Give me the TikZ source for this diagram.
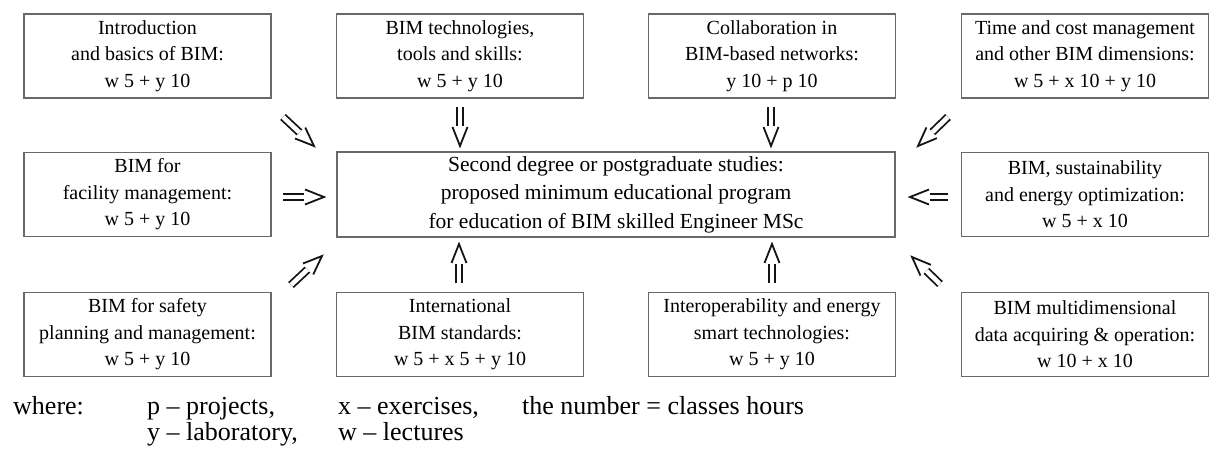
\documentclass[tikz,border=0pt]{standalone}
\usepackage{fontspec}
\setmainfont{Liberation Serif}
\usetikzlibrary{decorations.markings}
\definecolor{boxline}{RGB}{105,105,105}
\definecolor{ink}{RGB}{20,20,20}
\tikzset{
  module/.style={draw=boxline, line width=1.3, minimum width=247, minimum height=84,
    inner sep=0, align=center, text=black, font=\fontsize{20}{26.5}\selectfont},
  centrebox/.style={module, minimum width=558, minimum height=85,
    font=\fontsize{21.5}{28.5}\selectfont},
  legend/.style={anchor=base west, inner sep=0, text=black, font=\fontsize{26}{30}\selectfont},
  dblarrow/.style={
    preaction={draw=ink, line width=1.8, double distance=4.6, shorten >=20},
    postaction={decorate, decoration={markings, mark=at position 1 with {
      \draw[ink, line width=1.8, line join=miter] (-19,-7.5) -- (0,0) -- (-19,7.5);}}}}
}
\begin{document}
\begin{tikzpicture}[x=1pt, y=-1pt]
\useasboundingbox (0,0) rectangle (1211,452);
% top row
\node[module] (intro) at (147.5,56) {Introduction\\and basics of BIM:\\w 5 + y 10};
\node[module] (tech)  at (460,56) {BIM technologies,\\tools and skills:\\w 5 + y 10};
\node[module] (collab) at (772,56) {Collaboration in\\BIM-based networks:\\y 10 + p 10};
\node[module] (time)  at (1085,56) {Time and cost management\\and other BIM dimensions:\\w 5 + x 10 + y 10};
% middle row
\node[module] (facility) at (147.5,194.5) {BIM for\\facility management:\\w 5 + y 10};
\node[centrebox] (centre) at (616,194.5) {Second degree or postgraduate studies:\\proposed minimum educational program\\for education of BIM skilled Engineer MSc};
\node[module] (sustain) at (1085,194.5) {BIM, sustainability\\and energy optimization:\\w 5 + x 10};
% bottom row
\node[module] (safety) at (147.5,334.5) {BIM for safety\\planning and management:\\w 5 + y 10};
\node[module] (standards) at (460,334.5) {International\\BIM standards:\\w 5 + x 5 + y 10};
\node[module] (interop) at (772,334.5) {Interoperability and energy\\smart technologies:\\w 5 + y 10};
\node[module] (multi) at (1085,334.5) {BIM multidimensional\\data acquiring \& operation:\\w 10 + x 10};
% arrow end points
\coordinate (a1s) at (283,117);  \coordinate (a1e) at (314,146);
\coordinate (a2s) at (460,107);  \coordinate (a2e) at (460,146);
\coordinate (a3s) at (771,107);  \coordinate (a3e) at (771,146);
\coordinate (a4s) at (948,117);  \coordinate (a4e) at (918,146);
\coordinate (a5s) at (283,197);  \coordinate (a5e) at (324,197);
\coordinate (a6s) at (948,197);  \coordinate (a6e) at (910,197);
\coordinate (a7s) at (291,285);  \coordinate (a7e) at (322,256);
\coordinate (a8s) at (459,283);  \coordinate (a8e) at (459,244);
\coordinate (a9s) at (772,283);  \coordinate (a9e) at (772,244);
\coordinate (a10s) at (940,284); \coordinate (a10e) at (912,257);
\foreach \i in {1,...,10}{\path[dblarrow] (a\i s) -- (a\i e);}
% legend
\node[legend] (where) at (13,414) {where:};
\node[legend] (lp) at (147,414) {p – projects,};
\node[legend] (lx) at (338,414) {x – exercises,};
\node[legend] (ln) at (522,414) {the number = classes hours};
\node[legend] (ly) at (147,440) {y – laboratory,};
\node[legend] (lw) at (338,440) {w – lectures};
\end{tikzpicture}
\end{document}
